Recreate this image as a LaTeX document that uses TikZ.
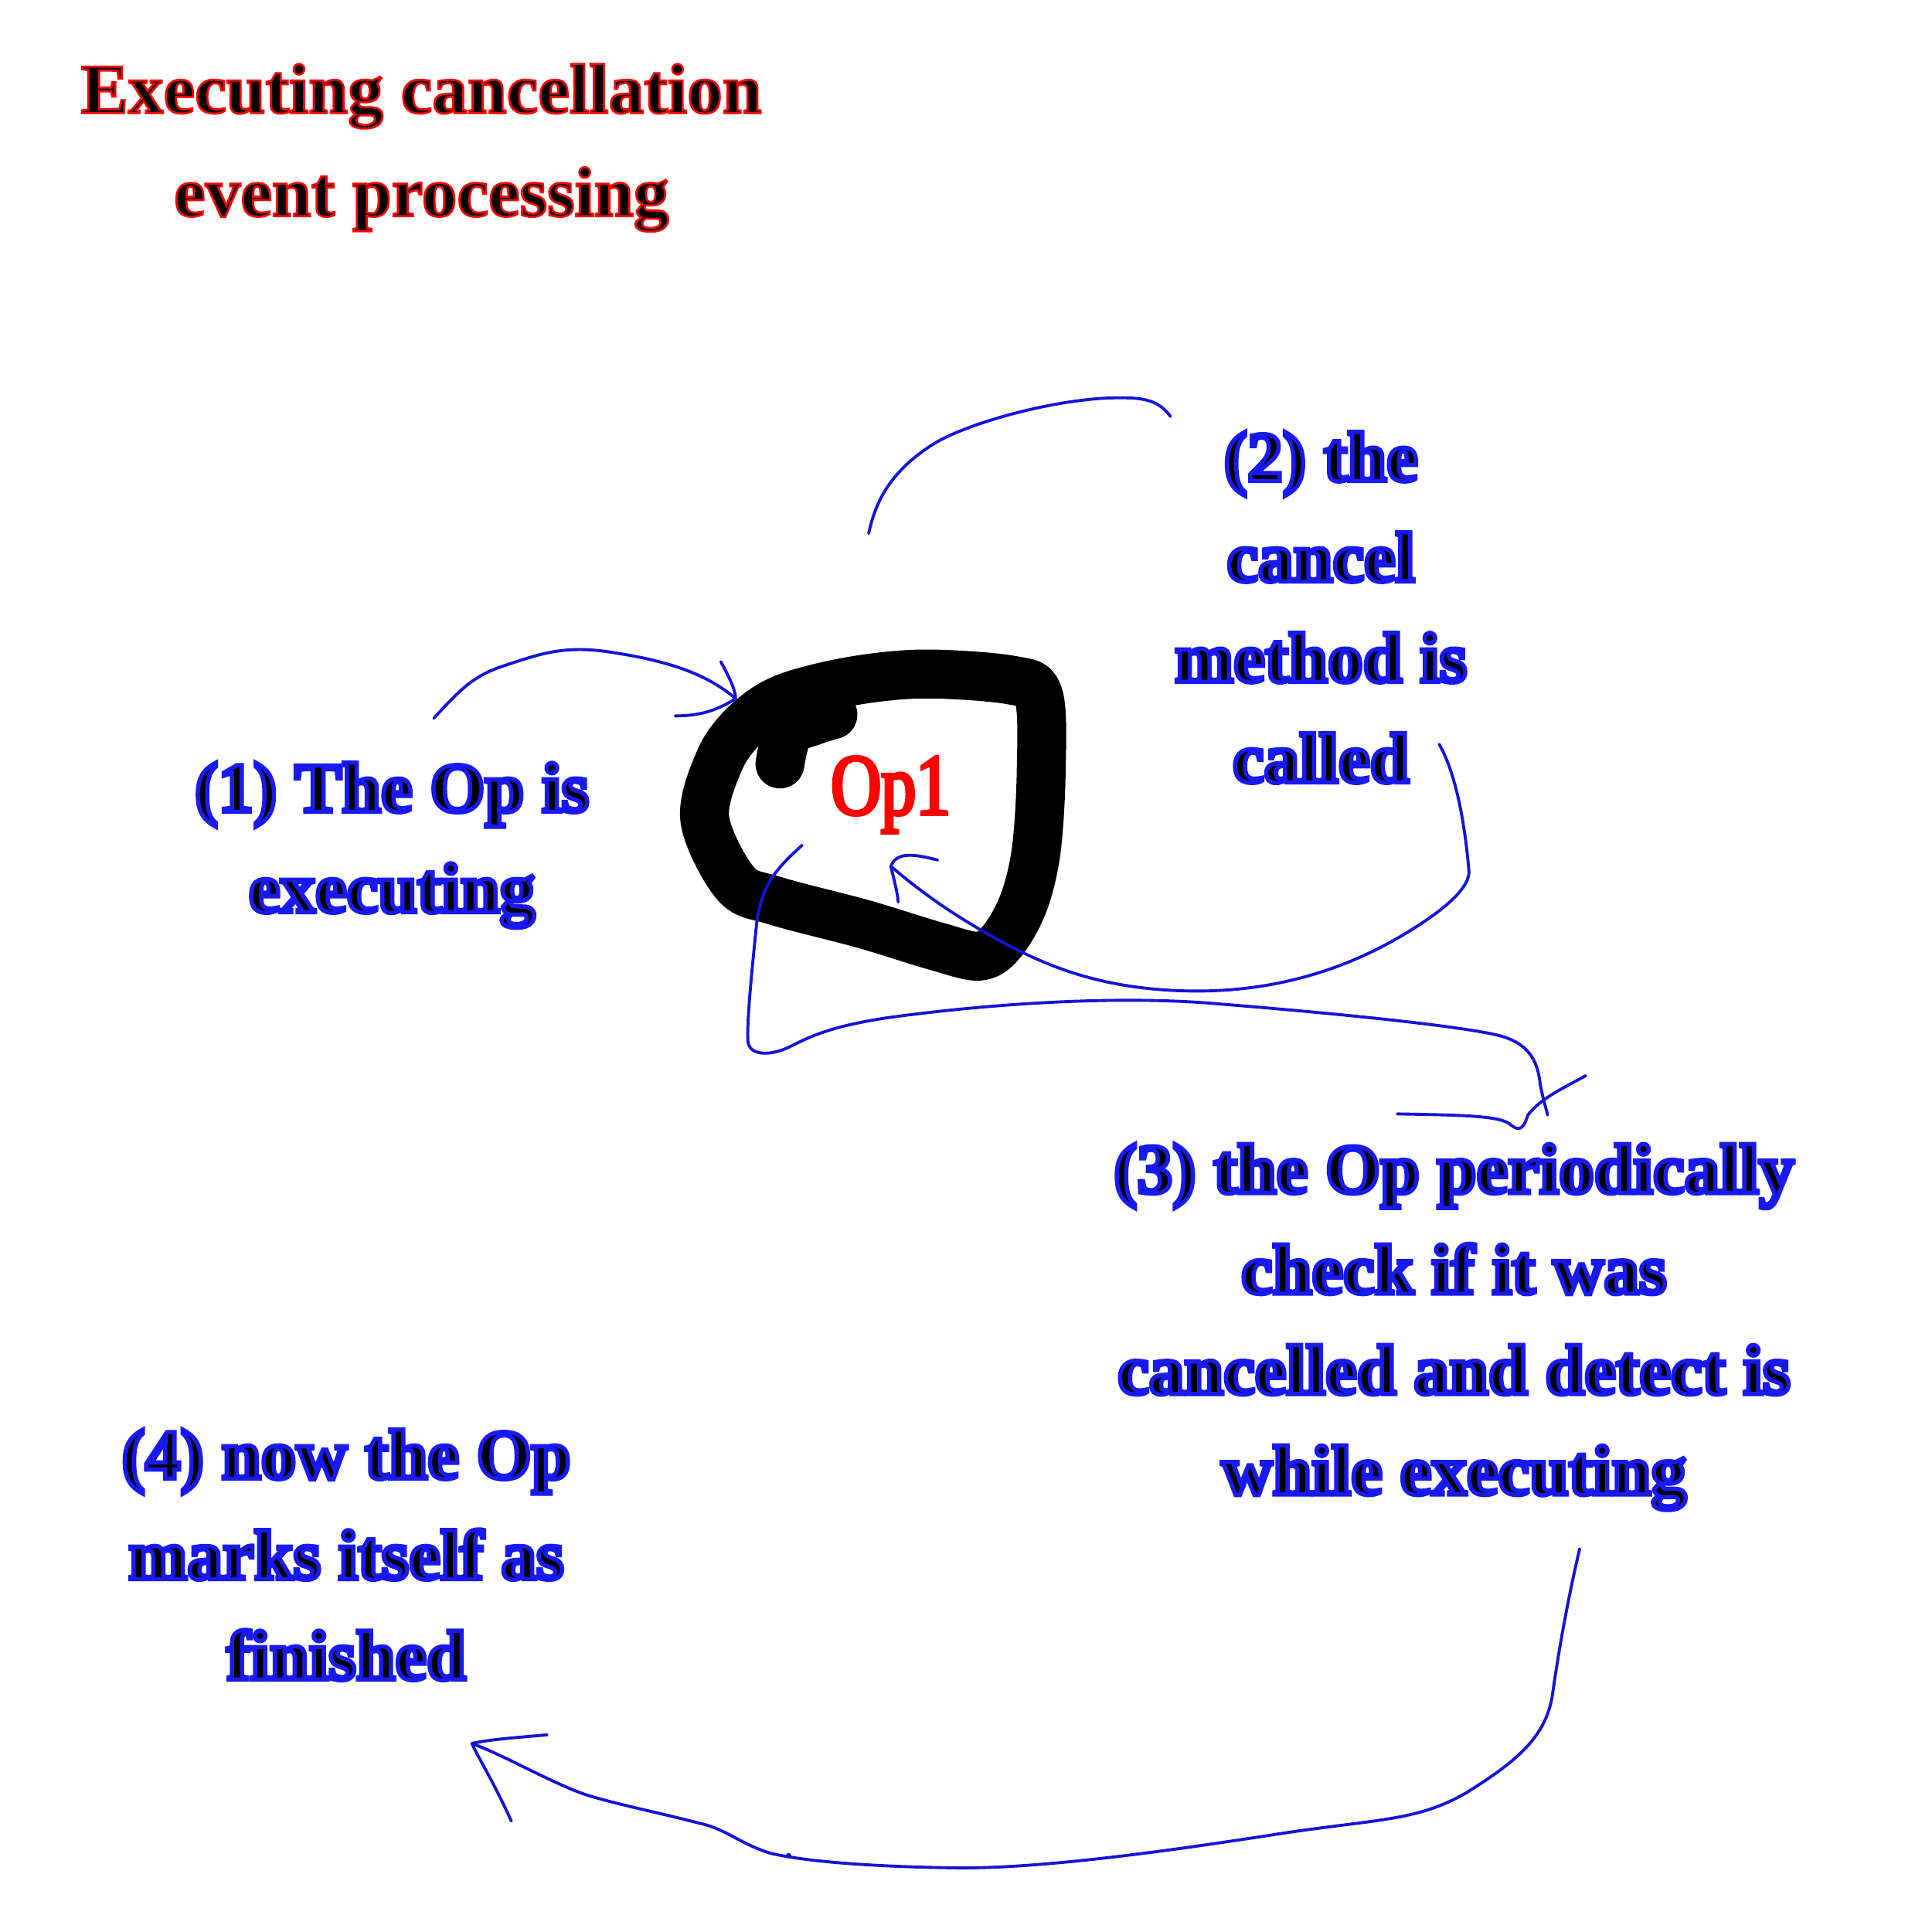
\documentclass[tikz,border=0pt]{standalone}
\usepackage{fontspec}
\setmainfont{Liberation Serif}
\newfontfamily\handfont[FakeBold=6]{Liberation Serif Bold}
\newfontfamily\headfont[FakeBold=3]{Liberation Serif Bold}
\newfontfamily\opfont[FakeStretch=0.8,FakeBold=4]{Liberation Serif}
\usetikzlibrary{arrows.meta}
\definecolor{inkblue}{RGB}{20,20,215}
% black letters, coloured rim
\newcommand{\blu}[1]{\special{pdf:code 0.1 0.1 0.95 RG}#1\special{pdf:code 0 0 0 RG}}
\newcommand{\rd}[1]{\special{pdf:code 1 0 0 RG}#1\special{pdf:code 0 0 0 RG}}
\tikzset{
  note/.style={align=center, font=\fontsize{26}{37}\selectfont\handfont},
  stroke/.style={inkblue, line width=1.1pt, line cap=round, line join=round},
}

\begin{document}
\begin{tikzpicture}[x=0.01594cm,y=-0.01594cm]
\useasboundingbox (0,0) rectangle (1568,1568);
% texts
\node[note, font=\fontsize{26}{38}\selectfont\headfont] (title) at (342,120) {\rd{Executing cancellation}\\\rd{event processing}};
\node[note] (t1) at (318,686) {\blu{(1) The Op is}\\\blu{executing}};
\node[note] (t2) at (1072,493) {\blu{(2) the}\\\blu{cancel}\\\blu{method is}\\\blu{called}};
\node[note] (t3) at (1180,1077) {\blu{(3) the Op periodically}\\\blu{check if it was}\\\blu{cancelled and detect is}\\\blu{while executing}};
\node[note] (t4) at (281,1262) {\blu{(4) now the Op}\\\blu{marks itself as}\\\blu{finished}};
\node[font=\fontsize{32}{36}\selectfont\opfont, text=red] (op) at (723,645) {Op1};
% the op blob
\draw[line width=18pt, line join=round] plot[smooth cycle, tension=0.55] coordinates {(636,567) (690,553) (750,547) (821,552) (843,565) (845,627) (841,690) (831,732) (814,763) (795,776) (760,768) (701,750) (629,731) (597,717) (572,665) (584,617) (605,588)};
\draw[line width=18pt, line cap=round] plot[smooth] coordinates {(633,620) (640,594) (660,585) (676,580)};
% connectors
\coordinate (a1) at (352,583);
\coordinate (h1) at (597,567);
\draw[stroke] (a1) .. controls (375,558) and (385,548) .. (410,540) .. controls (440,530) and (460,523) .. (500,530) .. controls (545,537) and (575,548) .. (h1);
\draw[stroke] (585,537) .. controls (592,550) and (597,560) .. (h1) .. controls (580,578) and (565,581) .. (548,581);
\coordinate (a2) at (950,338);
\coordinate (b2) at (705,433);
\draw[stroke] (a2) .. controls (940,325) and (930,322) .. (900,323) .. controls (850,325) and (780,345) .. (755,362) .. controls (720,385) and (710,410) .. (b2);
\coordinate (a3) at (1168,604);
\coordinate (h3) at (723,703);
\draw[stroke] (a3) .. controls (1180,625) and (1188,660) .. (1192,705) .. controls (1195,720) and (1170,740) .. (1140,758) .. controls (1070,800) and (1000,808) .. (940,803) .. controls (880,798) and (840,780) .. (800,757) .. controls (770,740) and (745,722) .. (h3);
\draw[stroke] (761,698) .. controls (745,694) and (728,690) .. (h3) .. controls (725,712) and (728,722) .. (729,732);
\coordinate (a4) at (651,686);
\coordinate (b4) at (1256,905);
\draw[stroke] (a4) .. controls (630,705) and (618,718) .. (614,750) .. controls (610,790) and (606,830) .. (607,845) .. controls (608,857) and (625,857) .. (640,850) .. controls (660,840) and (675,833) .. (720,826) .. controls (800,815) and (900,808) .. (980,814) .. controls (1080,822) and (1180,832) .. (1215,840) .. controls (1240,846) and (1248,860) .. (1250,880) .. controls (1253,895) and (1255,900) .. (b4);
\draw[stroke] (1134,904) .. controls (1180,905) and (1215,905) .. (1225,912) .. controls (1232,918) and (1236,918) .. (1240,905) .. controls (1250,892) and (1265,885) .. (1287,873);
\coordinate (a5) at (1282,1257);
\coordinate (h5) at (383,1415);
\draw[stroke] (a5) .. controls (1272,1300) and (1265,1340) .. (1260,1375) .. controls (1255,1410) and (1230,1430) .. (1190,1455) .. controls (1150,1478) and (1120,1476) .. (1040,1488) .. controls (950,1502) and (850,1516) .. (780,1516) .. controls (700,1515) and (650,1510) .. (625,1504) .. controls (600,1496) and (590,1485) .. (569,1480) .. controls (530,1470) and (490,1462) .. (471,1455) .. controls (440,1443) and (410,1425) .. (h5);
\draw[stroke] (444,1408) .. controls (420,1410) and (395,1412) .. (h5) .. controls (390,1430) and (400,1445) .. (415,1478);
\fill[inkblue] (640,1506) circle (1pt);
\end{tikzpicture}
\end{document}
